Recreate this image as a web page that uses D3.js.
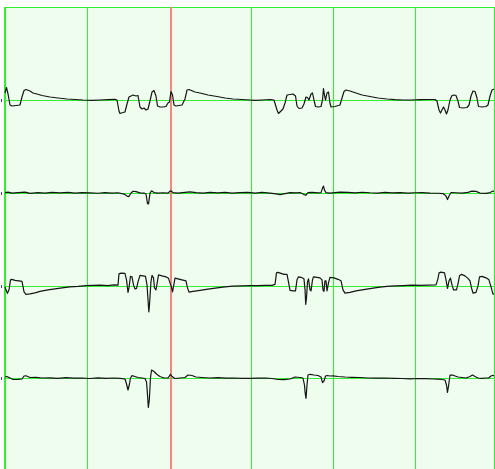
<!DOCTYPE html>
<html>
<head>
<meta charset="utf-8">
<script src="https://cdn.jsdelivr.net/npm/d3@7"></script>
<style>
  html, body { margin: 0; padding: 0; background: #ffffff; }
  svg { display: block; }
</style>
</head>
<body>
<svg id="chart" width="495" height="469"></svg>
<script>
// Four-channel trace view, time in seconds, amplitude in µV (arbitrary gain)
const channels = ["CH1", "CH2", "CH3", "CH4"];
const gridSeconds = [0, 1, 2, 3, 4, 5];
const cursorTime = 2.02;
const timeSpan = [0, 6];

const ch1 = [
  [0,7],[0.018,12.5],[0.037,6],[0.061,-5],[0.085,-6],[0.134,-5.5],[0.183,-5],[0.207,3],[0.232,9.5],[0.256,10.5],
  [0.305,9],[0.341,7],[0.39,6],[0.451,4.5],[0.549,3],[0.646,2],[0.756,1],[0.854,0.5],[0.951,0],[1.061,-0.3],
  [1.159,0],[1.256,0.3],[1.341,0.7],[1.366,0],[1.39,-11],[1.402,-13.5],[1.439,-12.5],[1.463,-12],[1.488,-4],[1.512,3],
  [1.537,4],[1.561,5],[1.598,4],[1.622,4.5],[1.646,-7],[1.671,-9],[1.695,-8],[1.72,-10],[1.744,-9],[1.768,-1],
  [1.793,8],[1.817,9.5],[1.841,4],[1.86,-6],[1.89,-7],[1.927,-7],[1.963,-6.5],[1.988,-3],[2.006,-2],[2.024,8.5],
  [2.043,5],[2.061,-5],[2.085,-6],[2.122,-5.5],[2.159,-5],[2.195,1],[2.22,10],[2.244,10.5],[2.317,8],[2.378,7],
  [2.476,5],[2.585,3.5],[2.683,2],[2.78,1],[2.89,0.5],[2.988,0],[3.049,-0.3],[3.134,0],[3.232,0.5],[3.28,0],
  [3.317,-10],[3.335,-13.5],[3.366,-11],[3.39,-9],[3.415,-3],[3.439,5],[3.476,5.5],[3.512,6],[3.543,4],[3.561,-6],
  [3.585,-8.5],[3.622,-8],[3.646,-4],[3.671,3],[3.689,2.5],[3.707,0],[3.732,6],[3.75,7],[3.768,0],[3.787,-6.5],
  [3.817,-7],[3.854,-6.5],[3.872,0],[3.884,11.5],[3.896,5],[3.909,0],[3.927,7],[3.945,8],[3.963,-3],[3.976,-7],
  [4.024,-6.5],[4.085,-5],[4.11,2],[4.134,8.5],[4.159,10],[4.207,9],[4.28,7],[4.354,5],[4.451,3.5],[4.549,2],
  [4.659,1],[4.756,0.3],[4.854,0],[4.963,0],[5.061,0.3],[5.159,0.5],[5.244,0.5],[5.268,-1],[5.293,-10],[5.311,-13],
  [5.329,-10],[5.348,-7],[5.366,-10],[5.384,-14],[5.402,-10],[5.427,0],[5.451,4.5],[5.476,5],[5.5,4.5],[5.524,-1],
  [5.543,-7.5],[5.585,-8],[5.634,-7.5],[5.659,-5],[5.683,4],[5.707,9],[5.732,8.5],[5.756,2],[5.774,-6.5],[5.817,-7],
  [5.866,-6.5],[5.89,-5],[5.915,4],[5.939,10],[5.963,11]
];

const ch2 = [
  [0,0.2],[0.037,0.7],[0.085,-0.3],[0.159,0.2],[0.244,0.7],[0.305,-0.6],[0.402,0.2],[0.488,-0.3],[0.573,0.4],[0.671,-0.1],
  [0.768,0.3],[0.854,-0.3],[0.939,0.1],[1.037,-0.1],[1.134,-0.5],[1.22,0.2],[1.305,-0.3],[1.378,0],[1.451,-1.3],[1.488,-3.3],
  [1.512,-3.8],[1.537,-0.3],[1.561,1.5],[1.598,1.2],[1.646,-0.1],[1.695,-0.3],[1.72,-1.3],[1.738,-10.8],[1.75,-11.3],[1.768,-0.3],
  [1.787,1.9],[1.817,0.2],[1.866,-0.3],[1.927,0],[1.988,-0.3],[2.018,2],[2.049,0.2],[2.11,-0.3],[2.195,0.4],[2.256,0.9],
  [2.329,0.2],[2.415,-0.3],[2.5,0.3],[2.598,-0.1],[2.683,0.4],[2.768,-0.3],[2.866,0.1],[2.963,0.3],[3.049,-0.3],[3.134,0.3],
  [3.232,-0.3],[3.305,-1.1],[3.354,-1.8],[3.415,-0.8],[3.476,0.1],[3.549,-0.1],[3.598,0.2],[3.646,-1.8],[3.671,-2.3],[3.695,0.2],
  [3.744,0.4],[3.817,-0.1],[3.854,0.2],[3.872,4.7],[3.884,6.7],[3.896,2.7],[3.915,0.2],[3.963,-0.3],[4.024,0.2],[4.085,0.7],
  [4.183,0.4],[4.268,-0.1],[4.354,0.5],[4.451,0],[4.549,-0.3],[4.634,0.3],[4.72,-0.1],[4.817,0.2],[4.915,-0.3],[5,0],
  [5.085,0.2],[5.183,-0.3],[5.28,-0.5],[5.341,-0.8],[5.378,-3.3],[5.396,-6.8],[5.415,-3.3],[5.439,0.2],[5.5,0],[5.573,-0.3],
  [5.646,0.4],[5.695,1.7],[5.744,1.4],[5.793,-0.3],[5.866,-0.6],[5.915,0.2],[5.951,1.7],[5.963,1.4]
];

const ch3 = [
  [0,-1.3],[0.012,-4.3],[0.03,-7.8],[0.049,-4.3],[0.067,5.7],[0.085,6.2],[0.122,5.2],[0.171,4.7],[0.207,4.2],[0.232,-6.3],
  [0.256,-8.8],[0.305,-8.3],[0.366,-7.3],[0.427,-5.8],[0.524,-4.3],[0.61,-3.3],[0.695,-2.3],[0.793,-1.3],[0.89,-0.8],[0.988,0],
  [1.073,0.2],[1.159,0.4],[1.256,0],[1.329,0.7],[1.378,0.4],[1.39,11.7],[1.415,12.4],[1.463,12.2],[1.482,5.7],[1.5,-6.8],
  [1.512,-2.3],[1.53,9.2],[1.549,8.7],[1.567,0.7],[1.585,-3.3],[1.604,-2.8],[1.622,3.7],[1.646,10.2],[1.683,9.7],[1.713,9.2],
  [1.732,0.7],[1.744,-14.3],[1.754,-26.3],[1.762,-19.3],[1.78,3.7],[1.793,10.2],[1.811,7.7],[1.823,-2.3],[1.841,-4.3],[1.854,1.7],
  [1.872,10.7],[1.915,9.7],[1.963,8.7],[1.994,7.2],[2.012,2.7],[2.03,-1.3],[2.043,-6.3],[2.061,1.7],[2.073,7.4],[2.134,6.2],
  [2.207,4.7],[2.226,-2.3],[2.244,-6.6],[2.293,-5.8],[2.378,-4.8],[2.476,-3.6],[2.585,-2.3],[2.683,-1.3],[2.78,-0.6],[2.89,-0.3],
  [2.988,0],[3.085,0],[3.171,0.2],[3.256,0.2],[3.293,1.2],[3.311,12.7],[3.329,13.2],[3.366,12.2],[3.402,11.2],[3.439,11.2],
  [3.457,3.7],[3.476,-4.8],[3.512,-5.3],[3.543,-5.3],[3.561,5.7],[3.579,8.7],[3.61,8.2],[3.646,6.7],[3.659,-4.3],[3.667,-18.8],
  [3.677,-12.3],[3.689,3.7],[3.701,6.7],[3.72,-4.3],[3.732,-5.3],[3.75,5.7],[3.762,8.7],[3.805,8.2],[3.841,7.7],[3.866,5.7],
  [3.878,-4.3],[3.89,-5.8],[3.902,4.7],[3.915,4.7],[3.927,-5.3],[3.945,2.7],[3.963,8.2],[4.012,7.7],[4.061,6.2],[4.098,4.7],
  [4.122,-4.3],[4.146,-7.6],[4.207,-6.8],[4.28,-5.3],[4.354,-4.3],[4.451,-3.1],[4.549,-1.8],[4.659,-0.8],[4.756,-0.3],[4.854,0],
  [4.963,0.4],[5.061,0.2],[5.159,0.4],[5.256,0.7],[5.28,6.7],[5.293,12.7],[5.317,13.4],[5.36,12.7],[5.378,5.7],[5.396,-2.8],
  [5.415,4.7],[5.433,7.4],[5.451,0.7],[5.47,-4.3],[5.506,-4.3],[5.524,1.7],[5.543,9.7],[5.567,11.2],[5.61,9.7],[5.646,7.2],
  [5.671,4.7],[5.689,-2.3],[5.707,-7.6],[5.744,-6.8],[5.768,-0.3],[5.787,8.7],[5.817,9.2],[5.866,7.7],[5.902,5.7],[5.927,-1.3],
  [5.951,-8.6],[5.963,-8.3]
];

const ch4 = [
  [0,1.3],[0.024,1.8],[0.061,0.3],[0.098,-1.2],[0.159,-1],[0.207,-0.7],[0.232,2.3],[0.256,2.5],[0.305,0.8],[0.378,1],
  [0.451,0.3],[0.549,0.5],[0.646,0],[0.744,0.6],[0.841,0.1],[0.939,0.3],[1.037,-0.2],[1.134,0.5],[1.232,0],[1.329,0.3],
  [1.402,0],[1.463,-0.7],[1.482,-5.7],[1.5,-11.7],[1.518,-5.7],[1.53,0.3],[1.549,2.6],[1.585,1.8],[1.622,0.8],[1.671,0.3],
  [1.707,-0.2],[1.726,-3.7],[1.738,-16.7],[1.748,-29.2],[1.76,-21.7],[1.774,0.3],[1.787,8.3],[1.817,6.8],[1.854,3.8],[1.89,1.8],
  [1.939,0.3],[1.988,0.3],[2.018,4],[2.037,1.8],[2.073,-0.2],[2.134,0.3],[2.195,0.8],[2.232,3.3],[2.28,2.8],[2.329,1.3],
  [2.402,0.8],[2.5,0.3],[2.598,0.6],[2.695,0.1],[2.793,0.3],[2.89,0],[2.988,0],[3.085,0.1],[3.183,0.3],[3.256,-0.2],
  [3.329,-1.2],[3.402,-1.4],[3.476,-0.7],[3.537,1.3],[3.598,0.8],[3.634,0.3],[3.652,-6.7],[3.662,-15.7],[3.671,-20],[3.683,-6.7],
  [3.695,3.3],[3.72,4],[3.768,3.3],[3.817,2.8],[3.854,1.3],[3.872,-4.4],[3.89,-2.7],[3.909,2.3],[3.927,2.8],[3.963,2.3],
  [4,2.5],[4.061,1.8],[4.146,1.3],[4.232,1],[4.329,0.8],[4.427,0.3],[4.524,0.1],[4.634,0.3],[4.744,0],[4.841,-0.2],
  [4.939,-0.5],[5.037,-0.2],[5.134,-0.4],[5.22,-0.7],[5.28,-0.9],[5.329,-1.2],[5.366,-1.7],[5.384,-6.7],[5.396,-14],[5.409,-7.7],
  [5.427,3.3],[5.463,3.1],[5.524,1.3],[5.573,0.8],[5.622,0.3],[5.671,1.8],[5.701,3.3],[5.732,1.8],[5.768,0.3],[5.817,0],
  [5.866,0.3],[5.902,0.5],[5.927,2.3],[5.951,3],[5.963,2.3]
];

const traces = [ch1, ch2, ch3, ch4];

const plot = { left: 5, right: 494, top: 7, bottom: 469 };

const svg = d3.select("#chart");

const x = d3.scaleLinear().domain(timeSpan).range([5, 497]);
const lane = d3.scalePoint().domain(channels).range([100, 378.3]);
const amp = d3.scaleLinear().domain([-46, 46]).range([46, -46]);

// panel background
svg.append("rect")
  .attr("x", plot.left).attr("y", plot.top)
  .attr("width", plot.right - plot.left).attr("height", plot.bottom - plot.top)
  .attr("fill", "#eefdee");

const green = "#33ee33";
const gridLayer = svg.append("g").attr("shape-rendering", "crispEdges");

// top and right border
gridLayer.append("rect")
  .attr("x", plot.left).attr("y", plot.top)
  .attr("width", plot.right + 1 - plot.left).attr("height", 1)
  .attr("fill", green);
gridLayer.append("rect")
  .attr("x", plot.right).attr("y", plot.top)
  .attr("width", 1).attr("height", plot.bottom - plot.top)
  .attr("fill", green);

// one-second grid
gridLayer.append("g").selectAll("rect")
  .data(gridSeconds.filter(d => d > 0 && d !== Math.round(cursorTime)))
  .join("rect")
  .attr("x", d => Math.round(x(d))).attr("y", plot.top)
  .attr("width", 1).attr("height", plot.bottom - plot.top)
  .attr("fill", green);

// channel baselines
gridLayer.append("g").selectAll("rect")
  .data(channels)
  .join("rect")
  .attr("x", plot.left).attr("y", d => Math.round(lane(d)))
  .attr("width", plot.right - plot.left).attr("height", 1)
  .attr("fill", green);

// time cursor
gridLayer.append("rect")
  .attr("x", Math.round(x(cursorTime)) - 1).attr("y", plot.top)
  .attr("width", 2).attr("height", plot.bottom - plot.top)
  .attr("fill", "#f4877c");

// left edge (t = 0)
gridLayer.append("rect")
  .attr("x", x(0) - 1).attr("y", plot.top)
  .attr("width", 2).attr("height", plot.bottom - plot.top)
  .attr("fill", green);

// channel markers at the left margin
gridLayer.append("g").selectAll("rect")
  .data(channels)
  .join("rect")
  .attr("x", 1).attr("y", d => Math.round(lane(d)) - 1)
  .attr("width", 1).attr("height", 3)
  .attr("fill", "#3344cc");

// traces
const line = d3.line()
  .x(d => x(d[0]))
  .y(d => amp(d[1]));

svg.append("g").selectAll("path")
  .data(channels)
  .join("path")
  .attr("transform", d => `translate(0,${lane(d)})`)
  .attr("d", (d, i) => line(traces[i]))
  .attr("fill", "none")
  .attr("stroke", "#151515")
  .attr("stroke-width", 1.2)
  .attr("stroke-linejoin", "round");
</script>
</body>
</html>
